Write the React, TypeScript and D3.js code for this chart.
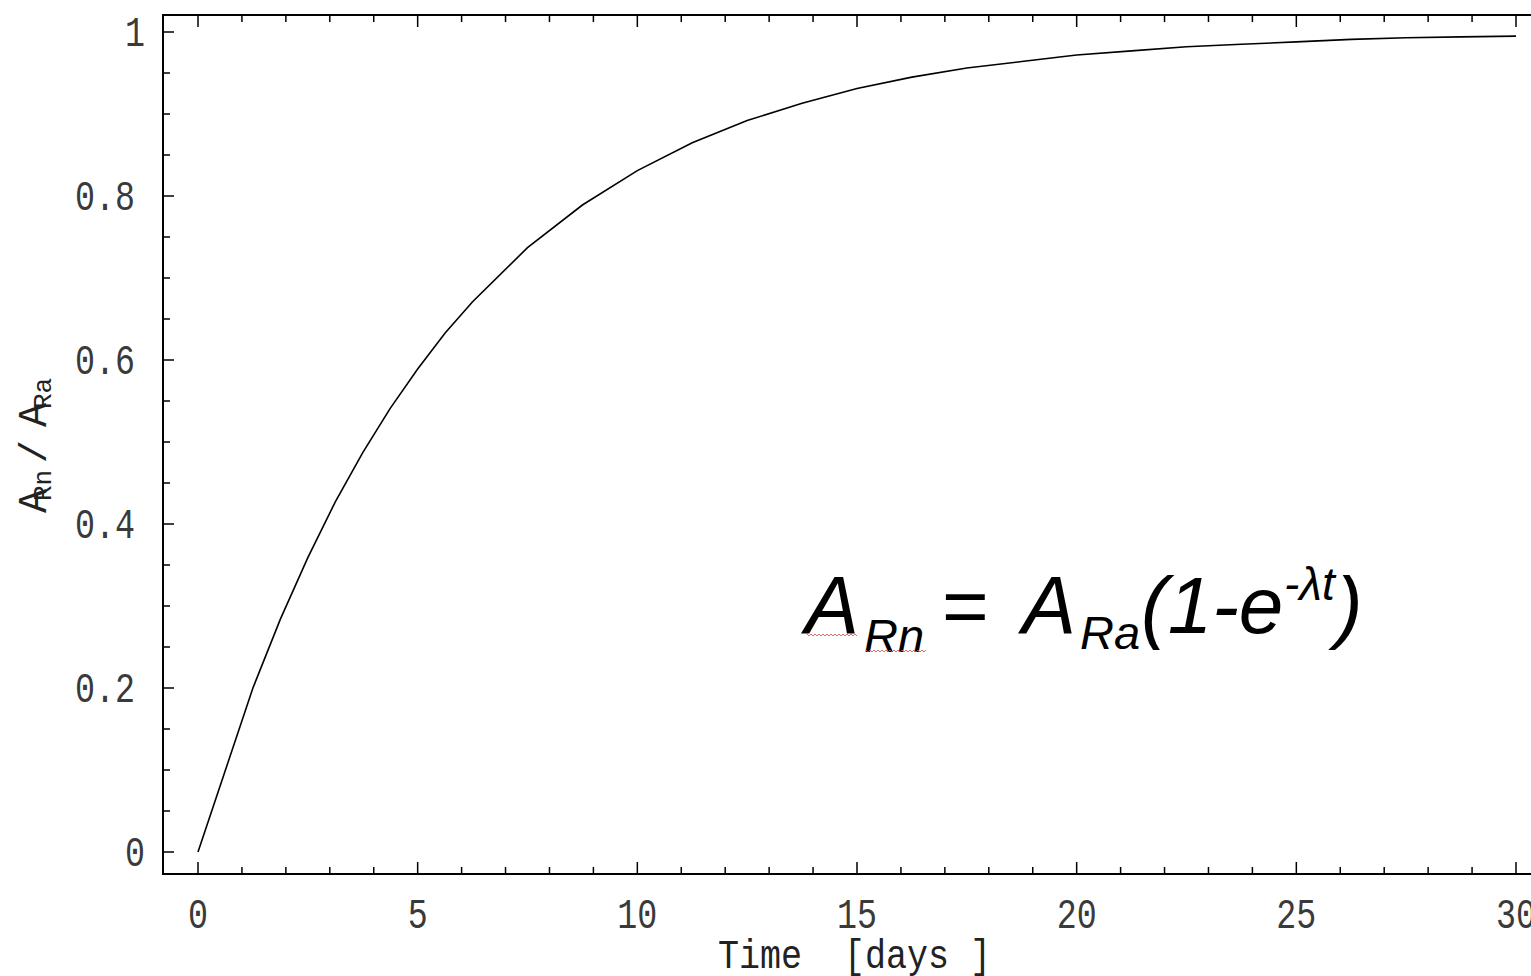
import React, { useEffect } from 'react';
import * as d3 from 'd3';

// time samples [days] and activity ratio A_Rn / A_Ra
const times = [0, 1.25, 1.875, 2.5, 3.125, 3.75, 4.375, 5, 5.625, 6.25, 7.5, 8.75, 10, 11.25, 12.5,
  13.75, 15, 16.25, 17.5, 18.75, 20, 21.25, 22.5, 23.75, 25, 26.25, 27.5, 28.75, 30];
const ratio = [0, 0.2, 0.284, 0.359, 0.427, 0.487, 0.541, 0.589, 0.633, 0.671, 0.737, 0.789, 0.831,
  0.865, 0.892, 0.913, 0.931, 0.945, 0.956, 0.964, 0.972, 0.977, 0.982, 0.985, 0.988, 0.991, 0.993,
  0.994, 0.995];

const xMajor = [0, 5, 10, 15, 20, 25, 30];
const xMinor = d3.range(0, 31, 1);
const yMajor = [0, 0.2, 0.4, 0.6, 0.8, 1];
const yMinor = d3.range(0, 1.0001, 0.05);

const W = 1531;
const H = 976;
const frame = { left: 163, top: 15, bottom: 874, right: 1560 };
const monoFont = '"Liberation Mono", "DejaVu Sans Mono", monospace';

// red spell-check squiggle under a word
function squiggle(x0: number, x1: number, y: number) {
  const pts = d3.range(x0, x1 + 0.1, 2).map((x, i) => [x, y + (i % 2 === 0 ? 0 : 2)] as [number, number]);
  return d3.line()(pts) || '';
}

export default function App() {
  useEffect(() => {
    document.body.style.margin = '0';
  }, []);

  const x = d3.scaleLinear().domain([0, 30]).range([198, 1516]);
  const y = d3.scaleLinear().domain([0, 1]).range([852, 32]);

  const line = d3.line<number>()
    .x((_, i) => x(times[i]))
    .y(d => y(d));

  const fmt = (v: number) => (v === 0 || v === 1 ? String(v) : d3.format('.1f')(v));

  return (
    <svg width={W} height={H} style={{ display: 'block', background: '#fff' }}>
      {/* frame */}
      <path
        d={`M${frame.right},${frame.top}H${frame.left}V${frame.bottom}H${frame.right}`}
        fill="none" stroke="#000" strokeWidth={2}
      />

      {/* bottom + top ticks */}
      {xMinor.map(t => {
        const major = t % 5 === 0;
        const len = major ? 12 : 7;
        return (
          <g key={'xt' + t} stroke="#000" strokeWidth={1.5}>
            <line x1={x(t)} x2={x(t)} y1={frame.bottom} y2={frame.bottom - len} />
            <line x1={x(t)} x2={x(t)} y1={frame.top} y2={frame.top + len} />
          </g>
        );
      })}

      {/* left ticks */}
      {yMinor.map((v, i) => {
        const major = i % 4 === 0;
        const len = major ? 11 : 7;
        return (
          <line key={'yt' + i} x1={frame.left} x2={frame.left + len} y1={y(v)} y2={y(v)}
            stroke="#000" strokeWidth={1.5} />
        );
      })}

      {/* x tick labels */}
      {xMajor.map(t => {
        const s = String(t);
        return (
          <text key={'xl' + t} x={x(t)} y={928} textAnchor="middle" fontFamily={monoFont}
            fontSize={42} fill="#3a3a3a" textLength={20 * s.length} lengthAdjust="spacingAndGlyphs">
            {s}
          </text>
        );
      })}

      {/* y tick labels */}
      {yMajor.map(v => {
        const s = fmt(v);
        const right = s.length > 1 ? 135 : 145;
        return (
          <text key={'yl' + v} x={right - 20 * s.length} y={y(v) + 14} fontFamily={monoFont}
            fontSize={42} fill="#3a3a3a" textLength={20 * s.length} lengthAdjust="spacingAndGlyphs">
            {s}
          </text>
        );
      })}

      {/* curve */}
      <path d={line(ratio) || ''} fill="none" stroke="#000" strokeWidth={1.6} />

      {/* x axis title */}
      <text x={718} y={968} fontFamily={monoFont} fontSize={40} fill="#222"
        textLength={273} lengthAdjust="spacingAndGlyphs" style={{ whiteSpace: 'pre' }}>
        {'Time  [days ]'}
      </text>

      {/* y axis title */}
      <g transform="translate(46,513) rotate(-90)" fontFamily={monoFont} fill="#222">
        <text x={0} y={0} fontSize={40}>A</text>
        <text x={12} y={5} fontSize={26}>Rn</text>
        <text x={50} y={0} fontSize={38}>/</text>
        <text x={86} y={0} fontSize={40}>A</text>
        <text x={104} y={5} fontSize={26}>Ra</text>
      </g>

      {/* formula */}
      <g fontFamily='"Liberation Sans", Arial, sans-serif' fontStyle="italic" fill="#000">
        <text x={805} y={633} fontSize={81}>A</text>
        <text x={864} y={652} fontSize={47}>Rn</text>
        <text x={942} y={633} fontSize={80} fontStyle="normal">=</text>
        <text x={1022} y={633} fontSize={81}>A</text>
        <text x={1080} y={649} fontSize={47}>Ra</text>
        <text x={1141} y={633} fontSize={80}>(1-e</text>
        <text x={1284} y={600} fontSize={46}>-λt</text>
        <text x={1336} y={633} fontSize={80}>)</text>
      </g>
      <g fill="none" stroke="#d24a4a" strokeWidth={1} opacity={0.8}>
        <path d={squiggle(807, 857, 634)} />
        <path d={squiggle(866, 927, 650)} />
      </g>
    </svg>
  );
}
